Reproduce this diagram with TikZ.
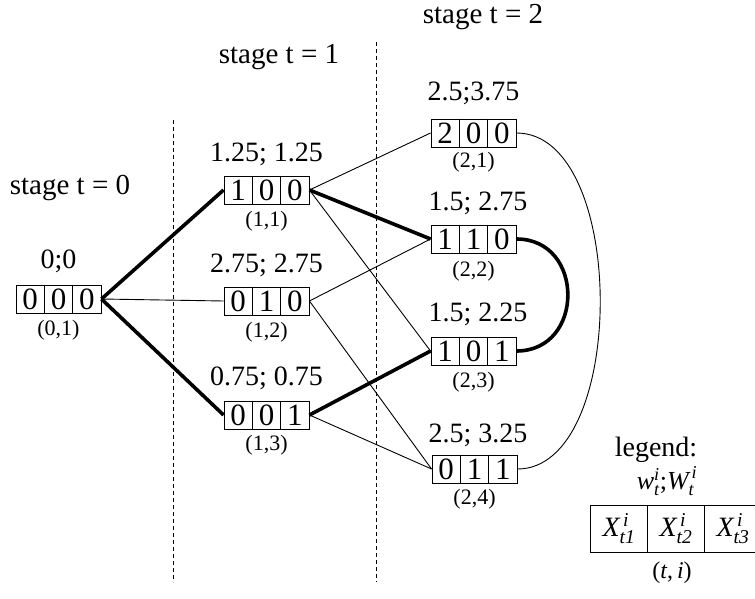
\documentclass[tikz,border=0pt]{standalone}
\usepackage{amsmath}
\usepackage{fontspec}
\setmainfont{Liberation Serif}
\newcommand\bigf{\fontsize{28}{30}\selectfont}
\newcommand\digf{\fontsize{31}{33}\selectfont}
\newcommand\midf{\fontsize{29}{31}\selectfont}
\newcommand\smallf{\fontsize{22}{24}\selectfont}
\newcommand\tribox[5]{%
  \node[tribox] (#1) at (#2) {};
  \node[digit] (#1-a) at ([xshift=-28.33pt]#1.center) {#3};
  \node[digit] (#1-b) at (#1.center) {#4};
  \node[digit] (#1-c) at ([xshift=28.33pt]#1.center) {#5};
  \draw[boxline] ([xshift=-14.17pt]#1.north) -- ([xshift=-14.17pt]#1.south);
  \draw[boxline] ([xshift=14.17pt]#1.north) -- ([xshift=14.17pt]#1.south);
}
\begin{document}
\begin{tikzpicture}[x=1pt,y=-1pt,
  tribox/.style={draw, line width=0.9pt, minimum width=85pt, minimum height=28pt, inner sep=0pt},
  boxline/.style={line width=0.9pt},
  digit/.style={inner sep=0pt, font=\digf},
  lab/.style={inner sep=0pt, font=\bigf},
  stagelab/.style={inner sep=0pt, font=\midf},
  sublab/.style={inner sep=0pt, font=\smallf},
  thinedge/.style={line width=0.9pt},
  thickedge/.style={line width=3.6pt},
  divider/.style={line width=0.8pt, dashed, dash pattern=on 4pt off 3pt},
  legcell/.style={draw, line width=0.9pt, minimum width=57pt, minimum height=47pt, inner sep=0pt, font=\bigf}
]
\useasboundingbox (0,0) rectangle (755,599);

% stage labels and dividers
\node[stagelab] (st0) at (70,188) {stage t = 0};
\node[stagelab] (st1) at (279,57) {stage t = 1};
\node[stagelab] (st2) at (483,17) {stage t = 2};
\coordinate (d1a) at (173,120);
\coordinate (d1b) at (173,582);
\coordinate (d2a) at (376,42);
\coordinate (d2b) at (376,582);
\draw[divider] (d1a) -- (d1b);
\draw[divider] (d2a) -- (d2b);

% nodes
\tribox{n000}{58.5,299}{0}{0}{0}
\tribox{n100}{266.5,190}{1}{0}{0}
\tribox{n010}{266.5,301}{0}{1}{0}
\tribox{n001}{266.5,415}{0}{0}{1}
\tribox{n200}{473.5,133}{2}{0}{0}
\tribox{n110}{473.5,239}{1}{1}{0}
\tribox{n101}{473.5,351}{1}{0}{1}
\tribox{n011}{474.5,469}{0}{1}{1}

% labels above
\node[lab] (w000) at (58.5,261) {0;0};
\node[lab] (w100) at (266.5,154) {1.25; 1.25};
\node[lab] (w010) at (266.5,265) {2.75; 2.75};
\node[lab] (w001) at (266.5,378) {0.75; 0.75};
\node[lab] (w200) at (473.5,93) {2.5;3.75};
\node[lab] (w110) at (478,203) {1.5; 2.75};
\node[lab] (w101) at (478,314) {1.5; 2.25};
\node[lab] (w011) at (478,435) {2.5; 3.25};

% labels below
\node[sublab] (i000) at (58.5,330) {(0,1)};
\node[sublab] (i100) at (266.5,221) {(1,1)};
\node[sublab] (i010) at (266.5,332) {(1,2)};
\node[sublab] (i001) at (266.5,445) {(1,3)};
\node[sublab] (i200) at (473.5,162) {(2,1)};
\node[sublab] (i110) at (473.5,271) {(2,2)};
\node[sublab] (i101) at (473.5,382) {(2,3)};
\node[sublab] (i011) at (474.5,499) {(2,4)};

% edges stage 0 -> 1
\draw[thickedge] (n000.east) -- (n100.west);
\draw[thinedge] (n000.east) -- (n010.west);
\draw[thickedge] (n000.east) -- (n001.west);
% edges stage 1 -> 2
\draw[thinedge] (n100.east) -- (n200.west);
\draw[thickedge] (n100.east) -- (n110.west);
\draw[thinedge] (n100.east) -- (n101.west);
\draw[thinedge] (n010.east) -- (n110.west);
\draw[thinedge] (n010.east) -- (n011.west);
\draw[thickedge] (n001.east) -- (n101.west);
\draw[thinedge] (n001.east) -- (n011.west);
% curves
\draw[thinedge] (n200.east) .. controls (628,133) and (628,469) .. (n011.east);
\draw[thickedge] (n110.east) .. controls (585,239) and (585,351) .. (n101.east);

% legend
\node[lab] (leg) at (656,450) {legend:};
\node[inner sep=0pt, font=\fontsize{26}{28}\selectfont] (legw) at (667,481) {$\textit{w}^{\textit{i}}_{\textit{t}}\text{;}\textit{W}^{\,\textit{i}}_{\textit{t}}$};
\node[legcell] (lx1) at (619,528.5) {$\textit{X}^{\,\textit{i}}_{\textit{t1}}$};
\node[legcell] (lx2) at (676,528.5) {$\textit{X}^{\,\textit{i}}_{\textit{t2}}$};
\node[legcell] (lx3) at (733,528.5) {$\textit{X}^{\,\textit{i}}_{\textit{t3}}$};
\node[inner sep=0pt, font=\fontsize{24}{26}\selectfont] (lti) at (672,573) {(\textit{t},\,\textit{i})};
\end{tikzpicture}
\end{document}
